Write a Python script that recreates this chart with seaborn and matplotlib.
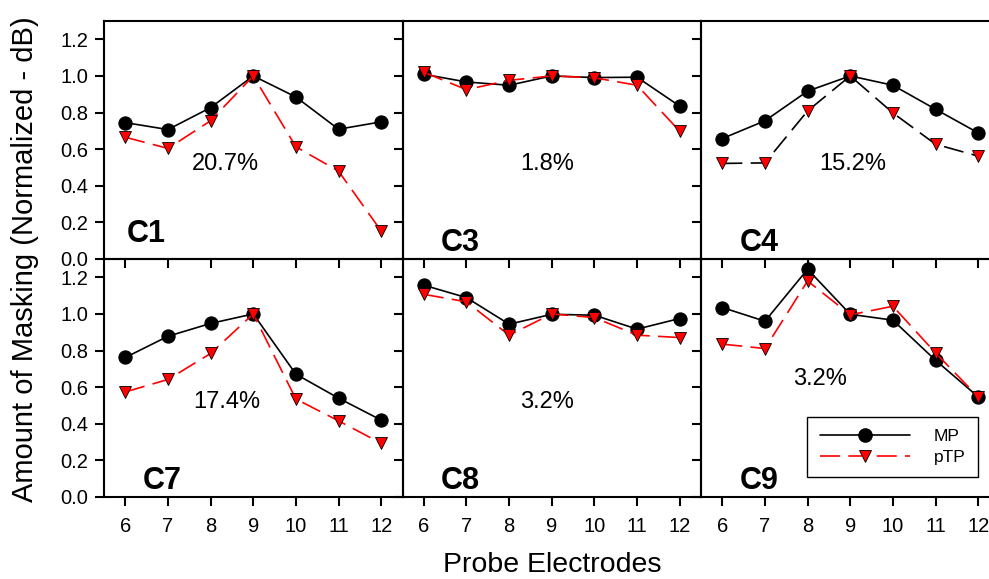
import numpy as np
import pandas as pd
import matplotlib
matplotlib.use('Agg')
import matplotlib.pyplot as plt
import seaborn as sns
from matplotlib.lines import Line2D

# data
electrodes = [6, 7, 8, 9, 10, 11, 12]
subjects = ['C1', 'C3', 'C4', 'C7', 'C8', 'C9']
percent = ['20.7%', '1.8%', '15.2%', '17.4%', '3.2%', '3.2%']

mp_c1 = [0.745, 0.707, 0.827, 1.0, 0.885, 0.709, 0.749]
ptp_c1 = [0.665, 0.604, 0.755, 1.0, 0.613, 0.480, 0.153]
mp_c3 = [1.009, 0.967, 0.949, 1.0, 0.991, 0.993, 0.835]
ptp_c3 = [1.020, 0.925, 0.976, 1.0, 0.990, 0.949, 0.698]
mp_c4 = [0.658, 0.755, 0.917, 1.0, 0.949, 0.818, 0.689]
ptp_c4 = [0.522, 0.525, 0.809, 1.0, 0.798, 0.627, 0.562]
mp_c7 = [0.762, 0.878, 0.948, 1.0, 0.671, 0.540, 0.420]
ptp_c7 = [0.574, 0.642, 0.784, 1.0, 0.535, 0.416, 0.293]
mp_c8 = [1.157, 1.089, 0.944, 0.998, 0.993, 0.917, 0.975]
ptp_c8 = [1.107, 1.066, 0.884, 1.0, 0.980, 0.884, 0.871]
mp_c9 = [1.035, 0.960, 1.244, 0.998, 0.966, 0.747, 0.547]
ptp_c9 = [0.835, 0.811, 1.180, 0.995, 1.042, 0.787, 0.547]

mp_all = [mp_c1, mp_c3, mp_c4, mp_c7, mp_c8, mp_c9]
ptp_all = [ptp_c1, ptp_c3, ptp_c4, ptp_c7, ptp_c8, ptp_c9]

rows = []
for s, mp, ptp in zip(subjects, mp_all, ptp_all):
    for e, a, b in zip(electrodes, mp, ptp):
        rows.append([s, e, 'MP', a])
        rows.append([s, e, 'pTP', b])
df = pd.DataFrame(rows, columns=['subject', 'electrode', 'mode', 'value'])

sns.set_style('ticks')
plt.rcParams['font.family'] = ['Liberation Sans', 'DejaVu Sans']
plt.rcParams['text.color'] = 'black'
plt.rcParams['axes.labelcolor'] = 'black'
plt.rcParams['xtick.color'] = 'black'
plt.rcParams['ytick.color'] = 'black'

# text placement (data coords)
pct_pos = [(8.34, 0.52), (8.9, 0.52), (9.07, 0.52), (8.38, 0.52), (8.9, 0.52), (8.3, 0.645)]
lab_pos = [(6.03, 0.093), (6.4, 0.046), (6.4, 0.046), (6.4, 0.046), (6.4, 0.046), (6.4, 0.046)]

W, H = 989, 579
fig = plt.figure(figsize=(W / 100, H / 100), dpi=100)
dash = (0, (12, 5))

for i, s in enumerate(subjects):
    row, col = i // 3, i % 3
    left = (104 + col * 298.5) / W
    bottom = (82 if row == 1 else 320) / H
    ax = fig.add_axes([left, bottom, 298.5 / W, 238 / H])
    ax.patch.set_alpha(0)
    sub = df[df['subject'] == s]

    sns.lineplot(data=sub[sub['mode'] == 'MP'], x='electrode', y='value', ax=ax,
                 errorbar=None, color='black', lw=1.2, marker='o', markersize=9.5,
                 markeredgecolor='black', markeredgewidth=0.8, clip_on=False, zorder=3)
    line_col = 'black' if s == 'C4' else 'red'
    sns.lineplot(data=sub[sub['mode'] == 'pTP'], x='electrode', y='value', ax=ax,
                 errorbar=None, color=line_col, lw=1.2, linestyle=dash, marker='v',
                 markersize=9, markerfacecolor='red', markeredgecolor='black',
                 markeredgewidth=0.6, clip_on=False, zorder=4)

    ax.set_xlim(5.5, 12.5)
    ax.set_ylim(0, 1.3)
    ax.set_xticks(electrodes)
    ax.set_yticks([0, 0.2, 0.4, 0.6, 0.8, 1.0, 1.2])
    ax.set_yticklabels(['0.0', '0.2', '0.4', '0.6', '0.8', '1.0', '1.2'])
    ax.set_xlabel('')
    ax.set_ylabel('')
    for sp in ax.spines.values():
        sp.set_visible(True)
        sp.set_linewidth(1.5)
        sp.set_color('black')
    ax.tick_params(axis='both', direction='out', length=6.5, width=1.5,
                   labelsize=14.5, colors='black')
    ax.tick_params(axis='y', pad=5, labelleft=(col == 0))
    ax.tick_params(axis='x', pad=8, labelbottom=(row == 1))

    ax.text(pct_pos[i][0], pct_pos[i][1], percent[i], fontsize=17,
            ha='center', va='center')
    ax.text(lab_pos[i][0], lab_pos[i][1], s, fontsize=22, fontweight='bold',
            ha='left', va='baseline')

    if s == 'C9':
        handles = [
            Line2D([], [], color='black', lw=1.2, marker='o', markersize=9.5,
                   markeredgecolor='black'),
            Line2D([], [], color='red', lw=1.2, linestyle=dash, marker='v',
                   markersize=9, markerfacecolor='red', markeredgecolor='black',
                   markeredgewidth=0.6),
        ]
        leg = ax.legend(handles, ['MP', 'pTP'], loc='lower right',
                        bbox_to_anchor=(0.928, 0.084), borderaxespad=0,
                        fontsize=12.5, handlelength=5.2, handletextpad=1.4,
                        borderpad=0.7, labelspacing=0.3, fancybox=False,
                        framealpha=1, edgecolor='black')
        leg.get_frame().set_linewidth(1.0)

fig.text(25 / W, 1 - 259 / H, 'Amount of Masking (Normalized - dB)', rotation=90,
         ha='center', va='center', fontsize=21)
fig.text(552 / W, 1 - 565 / H, 'Probe Electrodes', ha='center', va='center',
         fontsize=20.5)

fig.savefig('out.png', dpi=100)
